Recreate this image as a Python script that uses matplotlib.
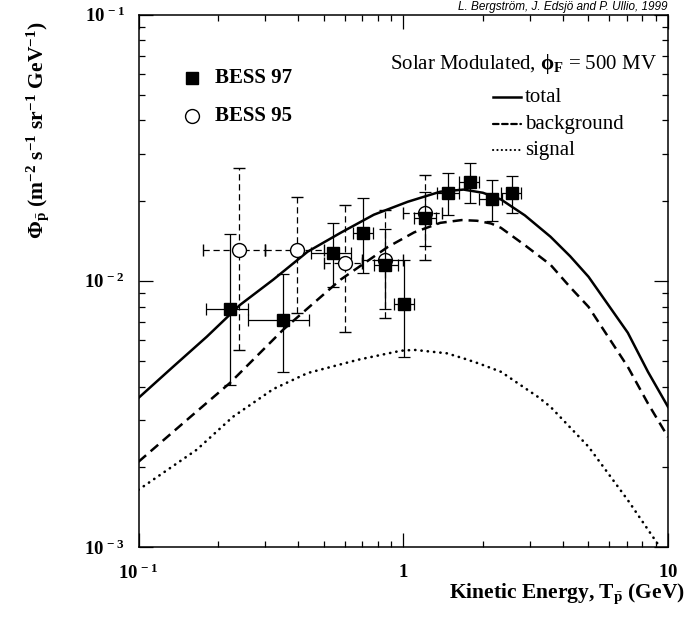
import matplotlib
matplotlib.use("Agg")
import matplotlib.pyplot as plt
from matplotlib.lines import Line2D
from matplotlib.ticker import FixedLocator, FixedFormatter, LogLocator, NullFormatter

plt.rcParams['font.family'] = ['Liberation Serif', 'DejaVu Serif']
plt.rcParams['mathtext.fontset'] = 'custom'
plt.rcParams['mathtext.rm'] = 'Liberation Serif:bold'
plt.rcParams['mathtext.it'] = 'Liberation Serif:italic:bold'
plt.rcParams['mathtext.bf'] = 'Liberation Serif:bold'
plt.rcParams['mathtext.default'] = 'rm'

# BESS 97 (filled squares)
bess97_x = [0.221, 0.350, 0.541, 0.703, 0.852, 1.006, 1.21, 1.48, 1.78, 2.16, 2.57]
bess97_y = [0.00785, 0.00713, 0.01274, 0.01514, 0.01148, 0.0082, 0.01725, 0.02143, 0.02357, 0.0202, 0.0214]
bess97_ylo = [0.00406, 0.00455, 0.00949, 0.01072, 0.00785, 0.00518, 0.01355, 0.0177, 0.01965, 0.0168, 0.0180]
bess97_yhi = [0.01502, 0.0106, 0.01652, 0.0205, 0.0157, 0.0120, 0.0216, 0.0255, 0.0278, 0.0238, 0.0248]
bess97_xlo = [0.180, 0.260, 0.447, 0.644, 0.774, 0.921, 1.10, 1.34, 1.62, 1.94, 2.34]
bess97_xhi = [0.260, 0.439, 0.634, 0.768, 0.954, 1.10, 1.33, 1.62, 1.94, 2.36, 2.78]

# BESS 95 (open circles)
bess95_x = [0.239, 0.398, 0.600, 0.852, 1.21]
bess95_y = [0.01309, 0.0131, 0.0117, 0.0120, 0.0180]
bess95_ylo = [0.0055, 0.00758, 0.00643, 0.00727, 0.0120]
bess95_yhi = [0.0264, 0.0207, 0.0193, 0.0185, 0.0250]
bess95_xlo = [0.175, 0.30, 0.50, 0.70, 1.0]
bess95_xhi = [0.30, 0.50, 0.70, 1.0, 1.4]

# model curves
total_x = [0.1, 0.135, 0.181, 0.242, 0.323, 0.435, 0.58, 0.774, 1.04, 1.38, 1.69, 2.0, 2.34, 2.88, 3.6, 4.27, 5.01, 5.89, 7.05, 8.4, 10.0]
total_y = [0.00363, 0.00475, 0.00616, 0.00812, 0.0101, 0.01285, 0.01514, 0.0177, 0.0198, 0.0216, 0.0220, 0.0214, 0.0202, 0.0176, 0.01463, 0.01236, 0.01035, 0.00823, 0.00638, 0.00455, 0.00336]

bg_x = [0.1, 0.157, 0.222, 0.352, 0.58, 0.875, 1.1, 1.38, 1.66, 1.9, 2.15, 2.34, 2.88, 3.6, 4.27, 5.01, 5.89, 7.05, 8.4, 10.0]
bg_y = [0.00209, 0.00308, 0.00414, 0.00655, 0.0101, 0.0134, 0.0152, 0.0165, 0.0169, 0.0168, 0.0164, 0.0158, 0.0136, 0.01148, 0.00946, 0.00798, 0.00624, 0.00475, 0.00346, 0.00259]

sig_x = [0.1, 0.166, 0.227, 0.323, 0.435, 0.675, 0.98, 1.10, 1.46, 1.69, 1.94, 2.34, 3.23, 3.6, 5.01, 7.05, 9.25]
sig_y = [0.00164, 0.00232, 0.00308, 0.00392, 0.0045, 0.00505, 0.00546, 0.0055, 0.00534, 0.00511, 0.00488, 0.00455, 0.00366, 0.00336, 0.00238, 0.0015, 0.00101]


def asym(c, lo, hi):
    return [[a - b for a, b in zip(c, lo)], [b - a for a, b in zip(c, hi)]]


W, H = 694, 617
fig = plt.figure(figsize=(W / 100, H / 100), dpi=100)
ax = fig.add_axes([138.5 / W, (H - 547) / H, (668 - 138.5) / W, (547 - 14.5) / H])

ax.set_xscale('log')
ax.set_yscale('log')
ax.set_xlim(0.1, 10)
ax.set_ylim(1e-3, 1e-1)

# curves
ax.plot(total_x, total_y, color='black', lw=1.8, solid_joinstyle='round')
ax.plot(bg_x, bg_y, color='black', lw=1.8, linestyle=(0, (4, 2.4)))
ax.plot(sig_x, sig_y, color='black', lw=1.9, linestyle=(0, (0.1, 2.3)), dash_capstyle='round')

# BESS 95 first so the squares sit on top
eb = ax.errorbar(bess95_x, bess95_y,
                 xerr=asym(bess95_x, bess95_xlo, bess95_xhi),
                 yerr=asym(bess95_y, bess95_ylo, bess95_yhi),
                 fmt='o', ms=10, mfc='white', mec='black', mew=1.0,
                 ecolor='black', elinewidth=0.9, capsize=4, capthick=0.9, zorder=3)
for lc in eb[2]:
    lc.set_linestyle((0, (5, 3)))

ax.errorbar(bess97_x, bess97_y,
            xerr=asym(bess97_x, bess97_xlo, bess97_xhi),
            yerr=asym(bess97_y, bess97_ylo, bess97_yhi),
            fmt='s', ms=9, mfc='black', mec='black',
            ecolor='black', elinewidth=0.9, capsize=4, capthick=0.9, zorder=4)

# ticks
ax.xaxis.set_major_locator(FixedLocator([0.1, 1, 10]))
ax.xaxis.set_major_formatter(FixedFormatter([r'$10^{\,-1}$', r'$1$', r'$10$']))
ax.yaxis.set_major_locator(FixedLocator([1e-3, 1e-2, 1e-1]))
ax.yaxis.set_major_formatter(FixedFormatter([r'$10^{\,-3}$', r'$10^{\,-2}$', r'$10^{\,-1}$']))
ax.xaxis.set_minor_locator(LogLocator(base=10, subs=range(2, 10)))
ax.yaxis.set_minor_locator(LogLocator(base=10, subs=range(2, 10)))
ax.xaxis.set_minor_formatter(NullFormatter())
ax.yaxis.set_minor_formatter(NullFormatter())
ax.tick_params(which='both', direction='in', top=True, right=True, width=0.9)
ax.tick_params(which='major', length=10, labelsize=13.5)
ax.tick_params(which='minor', length=4.5)
ax.tick_params(axis='x', which='major', pad=12)
ax.tick_params(axis='y', which='major', pad=10)
for s in ax.spines.values():
    s.set_linewidth(1.1)

# axis labels
fig.text(685 / W, 1 - 594 / H, r'Kinetic Energy, T$_{\bar{p}}$ (GeV)',
         ha='right', va='center', fontsize=15.5, fontweight='bold')
fig.text(38 / W, 1 - 130 / H, r'$\Phi_{\bar{p}}\ \mathrm{(m^{-2}\ s^{-1}\ sr^{-1}\ GeV^{-1})}$',
         ha='center', va='center', rotation=90, fontsize=15.5)

fig.text(667 / W, 1 - 7 / H, 'L. Bergström, J. Edsjö and P. Ullio, 1999',
         ha='right', va='center', fontsize=8.5, style='italic', family='Liberation Sans')

# legend (data sets)
fig.add_artist(Line2D([192 / W], [1 - 78 / H], marker='s', ms=9, color='black', ls='none'))
fig.text(215 / W, 1 - 78 / H, 'BESS 97', ha='left', va='center', fontsize=15, fontweight='bold')
fig.add_artist(Line2D([192 / W], [1 - 116 / H], marker='o', ms=10, mfc='white', mec='black',
                      mew=1.0, ls='none'))
fig.text(215 / W, 1 - 116 / H, 'BESS 95', ha='left', va='center', fontsize=15, fontweight='bold')

# legend (curves)
fig.text(657 / W, 1 - 64 / H, r'Solar Modulated, $\phi_{F}$ = 500 MV',
         ha='right', va='center', fontsize=15)
legend_rows = [('total', '-', 97, 1.8), ('background', (0, (2.5, 1.6)), 124, 1.6),
               ('signal', (0, (0.1, 2.0)), 150, 1.5)]
for name, ls, py, lw in legend_rows:
    fig.add_artist(Line2D([493 / W, 521 / W], [1 - py / H, 1 - py / H], color='black', lw=lw, ls=ls,
                          dash_capstyle='round'))
    fig.text(525 / W, 1 - py / H, name, ha='left', va='center', fontsize=15)

fig.savefig('out.png', dpi=100)
